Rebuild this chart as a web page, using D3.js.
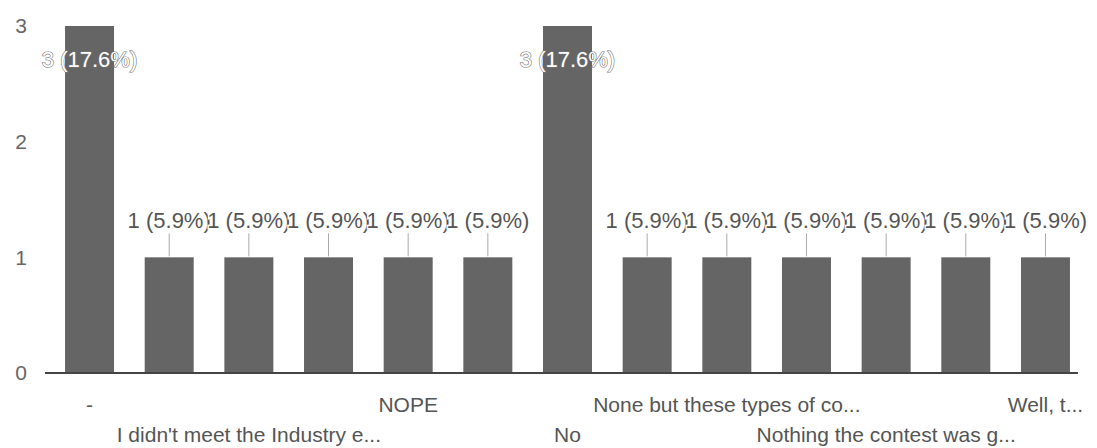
<!DOCTYPE html>
<html>
<head>
<meta charset="utf-8">
<script src="https://cdn.jsdelivr.net/npm/d3@7"></script>
<style>
  html, body { margin: 0; padding: 0; background: #fff; }
  svg { display: block; font-family: "Liberation Sans", Arial, sans-serif; }
</style>
</head>
<body>
<svg id="chart" width="1097" height="448"></svg>
<script>
// ---- data ----
const categories = [
  "-", "", "I didn't meet the Industry e...", "", "NOPE", "", "No",
  "", "None but these types of co...", "", "Nothing the contest was g...", "", "Well, t..."
];
const counts = [3, 1, 1, 1, 1, 1, 3, 1, 1, 1, 1, 1, 1];
const yTicks = [0, 1, 2, 3];

const total = d3.sum(counts);
const svg = d3.select("#chart");

const x = d3.scaleBand()
  .domain(d3.range(categories.length))
  .range([49.7, 1085.3])
  .paddingInner(0.385)
  .paddingOuter(0.1925);

const y = d3.scaleLinear().domain([0, 3]).range([373, 26]);

// y tick labels
svg.append("g").selectAll("text").data(yTicks).join("text")
  .attr("x", 27)
  .attr("y", d => y(d))
  .attr("dy", "0.35em")
  .attr("text-anchor", "end")
  .attr("font-size", 21)
  .attr("fill", "#666")
  .text(d => d);

// bars
svg.append("g").selectAll("rect").data(counts).join("rect")
  .attr("x", (d, i) => x(i))
  .attr("y", d => y(d))
  .attr("width", x.bandwidth())
  .attr("height", d => y(0) - y(d))
  .attr("fill", "#656565");

// baseline
svg.append("line")
  .attr("x1", 45).attr("x2", 1078)
  .attr("y1", y(0)).attr("y2", y(0))
  .attr("stroke", "#444").attr("stroke-width", 2);

const fmt = d => `${d} (${(d / total * 100).toFixed(1)}%)`;

const small = counts.map((d, i) => ({ d, i })).filter(o => o.d < 3);
const big = counts.map((d, i) => ({ d, i })).filter(o => o.d >= 3);

// stems from the annotations down to the small bars
svg.append("g").selectAll("line").data(small).join("line")
  .attr("x1", o => x(o.i) + x.bandwidth() / 2)
  .attr("x2", o => x(o.i) + x.bandwidth() / 2)
  .attr("y1", o => y(o.d) - 24)
  .attr("y2", o => y(o.d) - 1)
  .attr("stroke", "#aaa").attr("stroke-width", 1);

// annotations above the small bars
svg.append("g").selectAll("text").data(small).join("text")
  .attr("x", o => x(o.i) + x.bandwidth() / 2)
  .attr("y", o => y(o.d) - 29)
  .attr("text-anchor", "middle")
  .attr("font-size", 22)
  .attr("fill", "#555")
  .attr("stroke", "#fff").attr("stroke-width", 3).attr("paint-order", "stroke")
  .text(o => fmt(o.d));

// annotations inside the tall bars
svg.append("g").selectAll("text").data(big).join("text")
  .attr("x", o => x(o.i) + x.bandwidth() / 2)
  .attr("y", o => y(o.d) + 41)
  .attr("text-anchor", "middle")
  .attr("font-size", 22)
  .attr("fill", "#fff")
  .attr("stroke", "#777").attr("stroke-width", 1.2).attr("paint-order", "stroke")
  .text(o => fmt(o.d));

// category labels, staggered on two rows
const shown = categories.map((c, i) => ({ c, i })).filter(o => o.c !== "");
svg.append("g").selectAll("text").data(shown).join("text")
  .attr("x", o => x(o.i) + x.bandwidth() / 2)
  .attr("y", (o, k) => k % 2 === 0 ? 412 : 442)
  .attr("text-anchor", "middle")
  .attr("font-size", 21)
  .attr("fill", "#555")
  .text(o => o.c);
</script>
</body>
</html>
